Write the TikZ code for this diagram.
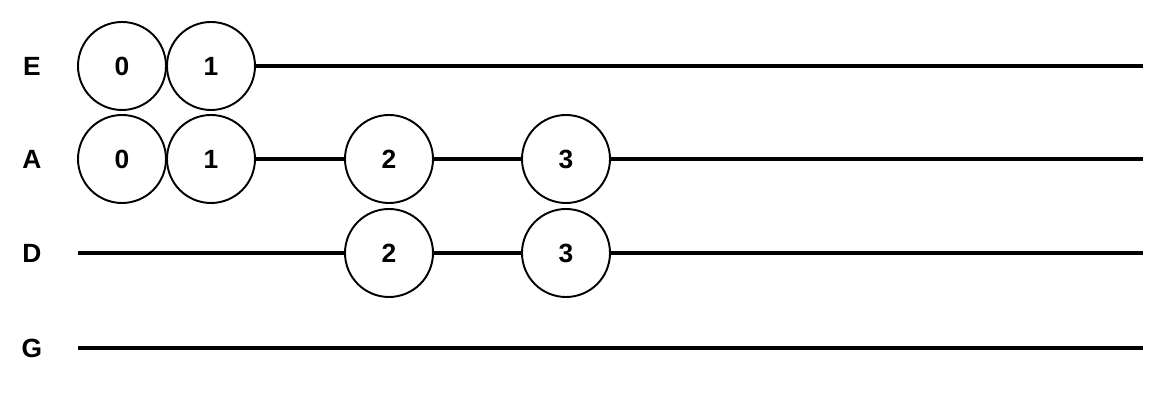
\documentclass[tikz,border=0pt]{standalone}
\usepackage{fontspec}
\setmainfont{Liberation Sans}
\usetikzlibrary{positioning}
\begin{document}
\begin{tikzpicture}[
    event/.style={circle, draw=black, line width=1.1pt, fill=white, minimum size=1.76cm,
                  inner sep=0pt, font=\fontsize{15}{17}\selectfont\bfseries},
    label/.style={font=\fontsize{15}{17}\selectfont\bfseries},
    wire/.style={line width=2.6pt, black}
]
    \useasboundingbox (0,0) rectangle (23.2,8);
    % Row labels
    \node[label] (lE) at (0.64,6.68) {E};
    \node[label] (lA) at (0.64,4.82) {A};
    \node[label] (lD) at (0.64,2.94) {D};
    \node[label] (lG) at (0.64,1.04) {G};

    % Ends of the wires
    \coordinate (eEnd) at (22.86,6.68);
    \coordinate (aEnd) at (22.86,4.82);
    \coordinate (dStart) at (1.56,2.94);
    \coordinate (dEnd) at (22.86,2.94);
    \coordinate (gStart) at (1.56,1.04);
    \coordinate (gEnd) at (22.86,1.04);

    % Events
    \node[event] (e0) at (2.44,6.68) {0};
    \node[event] (e1) at (4.22,6.68) {1};
    \node[event] (a0) at (2.44,4.82) {0};
    \node[event] (a1) at (4.22,4.82) {1};
    \node[event] (a2) at (7.78,4.82) {2};
    \node[event] (a3) at (11.32,4.82) {3};
    \node[event] (d2) at (7.78,2.94) {2};
    \node[event] (d3) at (11.32,2.94) {3};

    % Wires
    \draw[wire] (e1) -- (eEnd);
    \draw[wire] (a1) -- (a2);
    \draw[wire] (a2) -- (a3);
    \draw[wire] (a3) -- (aEnd);
    \draw[wire] (dStart) -- (d2);
    \draw[wire] (d2) -- (d3);
    \draw[wire] (d3) -- (dEnd);
    \draw[wire] (gStart) -- (gEnd);
\end{tikzpicture}
\end{document}
